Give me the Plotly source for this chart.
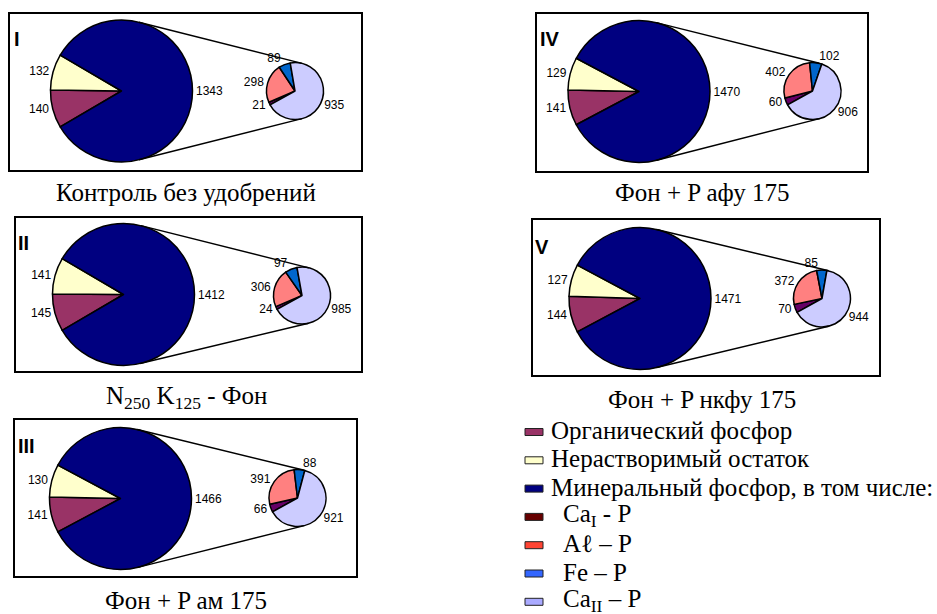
import math
import plotly.graph_objects as go

# ---- data -------------------------------------------------------------
panel_ids = ["I", "II", "III", "IV", "V"]
panel_captions = [
    "Контроль без удобрений",
    "N<sub>250</sub> K<sub>125</sub> - Фон",
    "Фон + P ам 175",
    "Фон + P афу 175",
    "Фон + P нкфу 175",
]

# main pie: organic, insoluble residue, mineral
main_labels = ["Органический фосфор", "Нерастворимый остаток",
               "Минеральный фосфор, в том числе:"]
organic = [140, 145, 141, 141, 144]
insoluble = [132, 141, 130, 129, 127]
mineral = [1343, 1412, 1466, 1470, 1471]

# secondary pie: mineral phosphorus split
sub_labels = ["Ca<sub>I</sub> - P", "Aℓ – P", "Fe – P", "Ca<sub>II</sub> – P"]
ca1_p = [21, 24, 66, 60, 70]
al_p = [298, 306, 391, 402, 372]
fe_p = [89, 97, 88, 102, 85]
ca2_p = [935, 985, 921, 906, 944]

# ---- styling ----------------------------------------------------------
main_colors = ["#993366", "#FFFFCC", "#000080"]
sub_colors = ["#660066", "#FF8080", "#0066CC", "#CCCCFF"]
legend_colors = ["#993366", "#FFFFCC", "#000080",
                 "#660000", "#FF4433", "#3366FF", "#AAAAFF"]

SERIF = "Liberation Serif"
SANS = "Liberation Sans"

W, H = 937, 614
R_BIG, R_SMALL = 71, 28.5
SUB_START_DEG = 209  # angle (ccw from east) where the secondary pie begins

# pixel layout for each panel
big_centers = [(121.5, 91), (123.5, 294.5), (120.5, 498.5), (639, 91.5), (640, 298.5)]
small_centers = [(295, 91), (302, 295.5), (297.5, 498), (812.5, 91), (822, 298.5)]
boxes = [(9, 13, 362, 171), (15, 217, 362, 372), (14, 419, 357, 577),
         (536, 13, 868, 172), (532, 219, 880, 376)]
caption_pos = [(186, 193), (186, 397), (186, 600), (702, 193), (702, 399)]
id_pos = [(12, 39), (16, 243), (16, 446), (538, 39), (533, 247)]


def px(x):
    return x / W


def py(y):
    return 1 - y / H


def domain(c, r):
    cx, cy = c
    return dict(x=[px(cx - r), px(cx + r)], y=[py(cy + r), py(cy - r)])


fig = go.Figure()
shapes = []
annotations = []

for i in range(len(panel_ids)):
    # frame
    x0, y0, x1, y1 = boxes[i]
    shapes.append(dict(type="rect", xref="paper", yref="paper",
                       x0=px(x0), x1=px(x1), y0=py(y1), y1=py(y0),
                       line=dict(color="black", width=2), layer="below"))

    vals = [organic[i], insoluble[i], mineral[i]]
    total = sum(vals)
    left_span = (organic[i] + insoluble[i]) / total * 360
    fig.add_trace(go.Pie(
        labels=main_labels, values=vals, sort=False, direction="clockwise",
        rotation=-90 - left_span / 2,
        marker=dict(colors=main_colors, line=dict(color="black", width=1.5)),
        textinfo="value", textposition="outside",
        textfont=dict(family=SANS, size=12, color="black"),
        domain=domain(big_centers[i], R_BIG),
        showlegend=False, hoverinfo="skip", automargin=False,
    ))

    svals = [ca1_p[i], al_p[i], fe_p[i], ca2_p[i]]
    fig.add_trace(go.Pie(
        labels=sub_labels, values=svals, sort=False, direction="clockwise",
        rotation=90 - SUB_START_DEG,
        marker=dict(colors=sub_colors, line=dict(color="black", width=1.5)),
        textinfo="value", textposition="outside",
        textfont=dict(family=SANS, size=12, color="black"),
        domain=domain(small_centers[i], R_SMALL),
        showlegend=False, hoverinfo="skip", automargin=False,
    ))

    # connector lines: outer tangents of the two pies
    (ax, ay), (bx, by) = big_centers[i], small_centers[i]
    dx, dy = bx - ax, by - ay
    d = math.hypot(dx, dy)
    base = math.atan2(-dy, dx)
    phi = math.acos((R_BIG - R_SMALL) / d)
    for s in (1, -1):
        t = base + s * phi
        p1 = (ax + R_BIG * math.cos(t), ay - R_BIG * math.sin(t))
        p2 = (bx + R_SMALL * math.cos(t), by - R_SMALL * math.sin(t))
        shapes.append(dict(type="line", xref="paper", yref="paper",
                           x0=px(p1[0]), y0=py(p1[1]), x1=px(p2[0]), y1=py(p2[1]),
                           line=dict(color="black", width=1.5)))

    annotations.append(dict(
        text="<b>%s</b>" % panel_ids[i], xref="paper", yref="paper",
        x=px(id_pos[i][0]), y=py(id_pos[i][1]), xanchor="left", yanchor="middle",
        showarrow=False, font=dict(family=SANS, size=20, color="black")))
    annotations.append(dict(
        text=panel_captions[i], xref="paper", yref="paper",
        x=px(caption_pos[i][0]), y=py(caption_pos[i][1]),
        xanchor="center", yanchor="middle", showarrow=False,
        font=dict(family=SERIF, size=25, color="black")))

# legend drawn as swatches + text
legend_items = main_labels + sub_labels
for k, (lab, col) in enumerate(zip(legend_items, legend_colors)):
    yc = 432 + k * 28.3
    shapes.append(dict(type="rect", xref="paper", yref="paper",
                       x0=px(525), x1=px(543), y0=py(yc + 3.5), y1=py(yc - 3.5),
                       fillcolor=col, line=dict(color="#222222", width=1)))
    annotations.append(dict(
        text=lab, xref="paper", yref="paper",
        x=px(549 if k < 3 else 561), y=py(yc - 1.5), xanchor="left", yanchor="middle",
        showarrow=False,
        font=dict(family=SERIF, size=25, color="black")))

fig.update_layout(
    width=W, height=H, autosize=False,
    margin=dict(l=0, r=0, t=0, b=0),
    paper_bgcolor="white", plot_bgcolor="white",
    shapes=shapes, annotations=annotations, showlegend=False,
)

fig.write_html("out.html")
